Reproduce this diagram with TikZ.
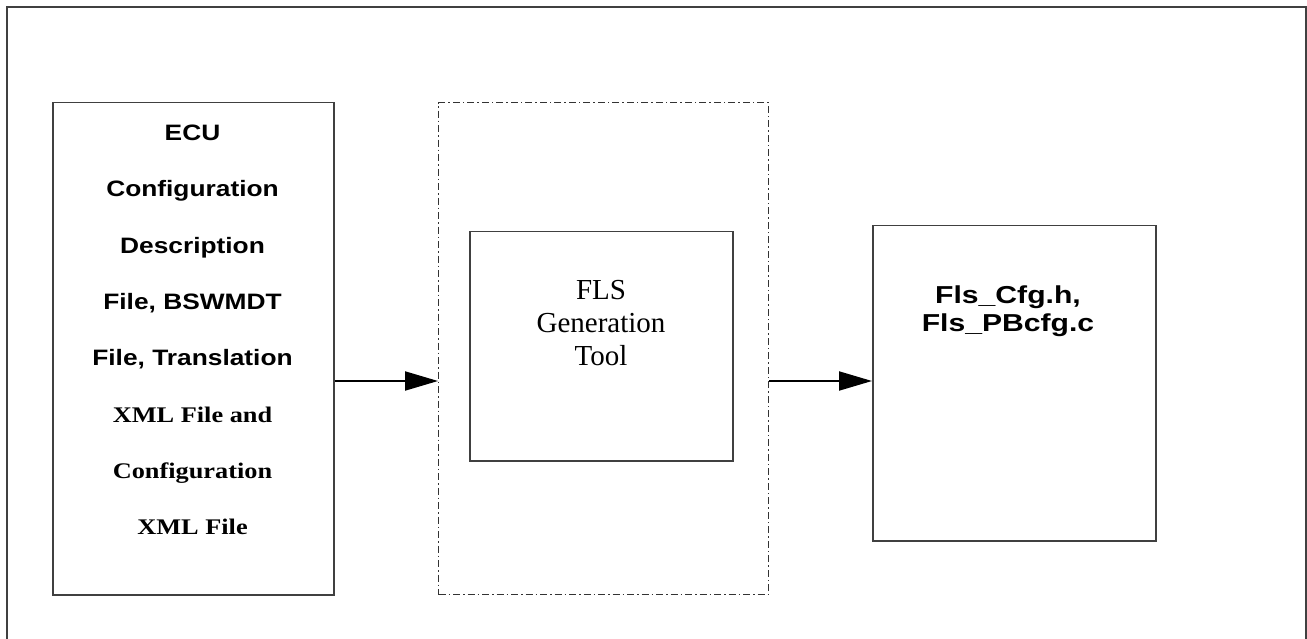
\documentclass[tikz,border=0pt]{standalone}
\usepackage{fontspec}
\setmainfont{Liberation Serif}
\setsansfont{Liberation Sans}
\usetikzlibrary{arrows.meta}
\newcommand{\wideline}[1]{\scalebox{1.18}[1]{#1}}
\newcommand{\widerline}[1]{\scalebox{1.23}[1]{#1}}
\begin{document}
\begin{tikzpicture}[x=1pt,y=-1pt,
  frameline/.style={draw=black!75, line width=1.5pt},
  boxline/.style={draw=black!75, line width=1.5pt},
  dashdot/.style={draw=black!80, line width=1.2pt, dash pattern=on 7pt off 3pt on 1.5pt off 3pt},
  flow/.style={draw=black, line width=2pt, -{Triangle[length=33pt,width=19pt]}},
  sanslabel/.style={font=\sffamily\bfseries\fontsize{22.3}{56.3}\selectfont, align=center, inner sep=0pt},
]
\useasboundingbox (0,0) rectangle (1307,639);

% page frame (open at the bottom)
\draw[frameline] (7,639) -- (7,7) -- (1306,7) -- (1306,639);

% input files
\node[boxline, minimum width=281pt, minimum height=492pt, anchor=north west] (input) at (52,102) {};
\node[sanslabel, anchor=center] (inputtext) at (192.5,330) {%
  \wideline{ECU}\\
  \wideline{Configuration}\\
  \wideline{Description}\\
  \wideline{File, BSWMDT}\\
  \wideline{File, Translation}\\
  \rmfamily\wideline{XML File and}\\
  \rmfamily\wideline{Configuration}\\
  \rmfamily\wideline{XML File}};

% generation tool boundary
\node[dashdot, minimum width=330pt, minimum height=492pt, anchor=north west] (toolarea) at (438,102) {};
\node[boxline, minimum width=263pt, minimum height=229pt, anchor=north west] (tool) at (469,231) {};
\node[font=\rmfamily\fontsize{29}{33}\selectfont, align=center, inner sep=0pt] (tooltext) at (601,323) {FLS\\Generation\\Tool};

% generated output
\node[boxline, minimum width=283pt, minimum height=315pt, anchor=north west] (output) at (872,225) {};
\node[sanslabel, font=\sffamily\bfseries\fontsize{24.5}{28.5}\selectfont] (outputtext) at (1008,311) {%
  \widerline{Fls\_Cfg.h,}\\
  \widerline{Fls\_PBcfg.c}};

% data flow
\draw[flow] (input.east |- 0,381) -- (toolarea.west |- 0,381);
\draw[flow] (toolarea.east |- 0,381) -- (output.west |- 0,381);
\end{tikzpicture}
\end{document}
